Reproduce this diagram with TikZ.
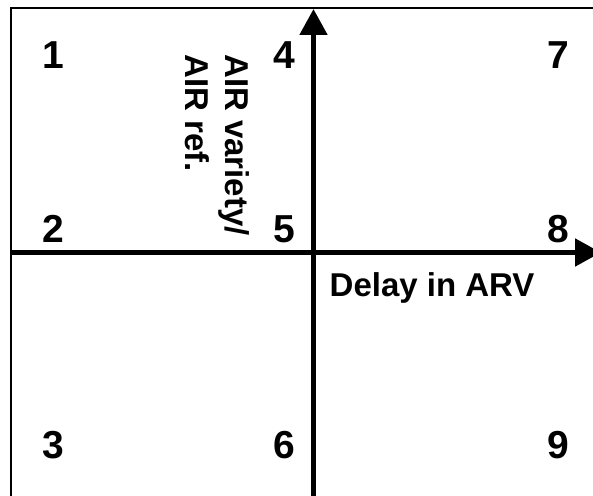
\documentclass[tikz,border=0pt]{standalone}
\usepackage{fontspec}
\setmainfont{Liberation Sans}
\usetikzlibrary{arrows.meta}
\begin{document}
\begin{tikzpicture}[x=1pt,y=-1pt,
  frame/.style={line width=1.5pt},
  axis/.style={line width=5pt, -{Triangle[length=26pt,width=27pt]}},
  digit/.style={font=\fontsize{39}{39}\selectfont\bfseries, inner sep=0pt, anchor=base},
  lbl/.style={font=\fontsize{33}{40}\selectfont\bfseries, inner sep=0pt, anchor=base west}]
\useasboundingbox (0,0) rectangle (593,495);
\clip (0,0) rectangle (593,495);
\draw[frame] (11,8) rectangle (640,540);
\coordinate (xstart) at (11,252.5);
\coordinate (xend) at (601,252.5);
\coordinate (ystart) at (313.5,540);
\coordinate (yend) at (313.5,9);
\draw[axis] (xstart) -- (xend);
\draw[axis] (ystart) -- (yend);
\node[digit] (n1) at (53,68) {1};
\node[digit] (n2) at (53,242) {2};
\node[digit] (n3) at (53,458) {3};
\node[digit] (n4) at (284,68) {4};
\node[digit] (n5) at (284,242) {5};
\node[digit] (n6) at (284,458) {6};
\node[digit] (n7) at (558,68) {7};
\node[digit] (n8) at (558,242) {8};
\node[digit] (n9) at (558,458) {9};
\node[lbl] (xlabel) at (329.5,296.7) {Delay in ARV};
\node[lbl, rotate=-90] (ylabel1) at (225,54) {AIR variety/};
\node[lbl, rotate=-90] (ylabel2) at (185,54) {AIR ref.};
\end{tikzpicture}
\end{document}
